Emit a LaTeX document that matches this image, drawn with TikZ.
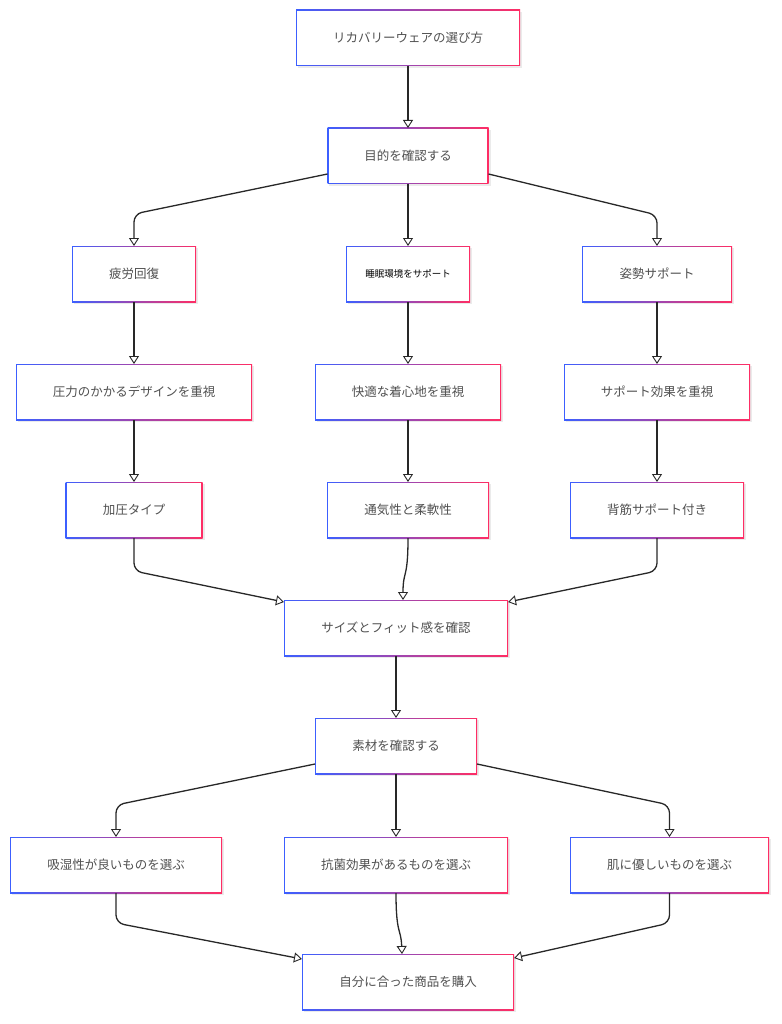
\documentclass[tikz,border=0pt]{standalone}
\usepackage{fontspec}
\newfontfamily\jpfont{Noto Sans CJK JP}
\usetikzlibrary{arrows.meta}
\definecolor{bL}{RGB}{60,95,255}
\definecolor{bR}{RGB}{255,45,100}
\definecolor{txt}{RGB}{80,80,80}
\definecolor{ln}{RGB}{40,40,40}
\tikzset{
  box/.style={inner sep=0pt, outer sep=0pt, text=txt, font=\jpfont\fontsize{12.5}{15}\selectfont},
  arr/.style={draw=ln, line width=1.3pt, rounded corners=8pt,
    -{Triangle[fill=white, length=8pt, width=10pt, line width=0.9pt]}},
}
\newcommand\mybox[6]{%
  \fill[black,opacity=0.08] (#2-#4/2+1.5,#3-#5/2+2) rectangle (#2+#4/2+2,#3+#5/2+2);
  \shade[left color=bL,right color=bR] (#2-#4/2,#3-#5/2) rectangle (#2+#4/2,#3+#5/2);
  \fill[white] (#2-#4/2+1.4,#3-#5/2+1.4) rectangle (#2+#4/2-1.4,#3+#5/2-1.4);
  \node[box,minimum width=#4pt,minimum height=#5pt] (#1) at (#2,#3) {#6};}
\begin{document}
\begin{tikzpicture}[x=1pt,y=-1pt]
\useasboundingbox[fill=white] (0,0) rectangle (781,1024);
\mybox{n1}{408}{38}{224}{56}{リカバリーウェアの選び方}
\mybox{n2}{408}{156}{161}{56}{目的を確認する}
\mybox{n3}{134}{274}{124}{56}{疲労回復}
\mybox{n4}{408}{274}{124}{56}{\textcolor{black}{\fontsize{9.5}{12}\selectfont 睡眠環境をサポート}}
\mybox{n5}{657}{274}{150}{56}{姿勢サポート}
\mybox{n6}{134}{392}{236}{56}{圧力のかかるデザインを重視}
\mybox{n7}{408}{392}{186}{56}{快適な着心地を重視}
\mybox{n8}{657}{392}{186}{56}{サポート効果を重視}
\mybox{n9}{134}{510}{137}{56}{加圧タイプ}
\mybox{n10}{408}{510}{162}{56}{通気性と柔軟性}
\mybox{n11}{657}{510}{174}{56}{背筋サポート付き}
\mybox{n12}{396}{628}{224}{56}{サイズとフィット感を確認}
\mybox{n13}{396}{746}{162}{56}{素材を確認する}
\mybox{n14}{116}{865}{212}{56}{吸湿性が良いものを選ぶ}
\mybox{n15}{396}{865}{224}{56}{抗菌効果があるものを選ぶ}
\mybox{n16}{669.5}{865}{199}{56}{肌に優しいものを選ぶ}
\mybox{n17}{408}{982}{212}{56}{自分に合った商品を購入}

\draw[arr] (n1) -- (n2);
\draw[arr] ([yshift=10pt]n2.south west) -- (n3.north |- 0,214) -- (n3.north);
\draw[arr] (n2) -- (n4);
\draw[arr] ([yshift=10pt]n2.south east) -- (n5.north |- 0,215) -- (n5.north);
\draw[arr] (n3) -- (n6);
\draw[arr] (n4) -- (n7);
\draw[arr] (n5) -- (n8);
\draw[arr] (n6) -- (n9);
\draw[arr] (n7) -- (n10);
\draw[arr] (n8) -- (n11);
\draw[arr] (n9.south) -- (n9.south |- 0,571) -- ([yshift=-2pt]n12.north west);
\draw[arr] (n10.south) .. controls (408,580) and (403,570) .. ([xshift=7pt]n12.north);
\draw[arr] (n11.south) -- (n11.south |- 0,571) -- ([yshift=-2pt]n12.north east);
\draw[arr] (n12) -- (n13);
\draw[arr] ([yshift=10pt]n13.south west) -- (n14.north |- 0,805) -- (n14.north);
\draw[arr] (n13) -- (n15);
\draw[arr] ([yshift=10pt]n13.south east) -- (n16.north |- 0,805) -- (n16.north);
\draw[arr] (n14.south) -- (n14.south |- 0,923) -- ([yshift=-5pt]n17.north west);
\draw[arr] (n15.south) .. controls (396,935) and (401,928) .. ([xshift=-6pt]n17.north);
\draw[arr] (n16.south) -- (n16.south |- 0,923) -- ([yshift=-4pt]n17.north east);
\end{tikzpicture}
\end{document}
